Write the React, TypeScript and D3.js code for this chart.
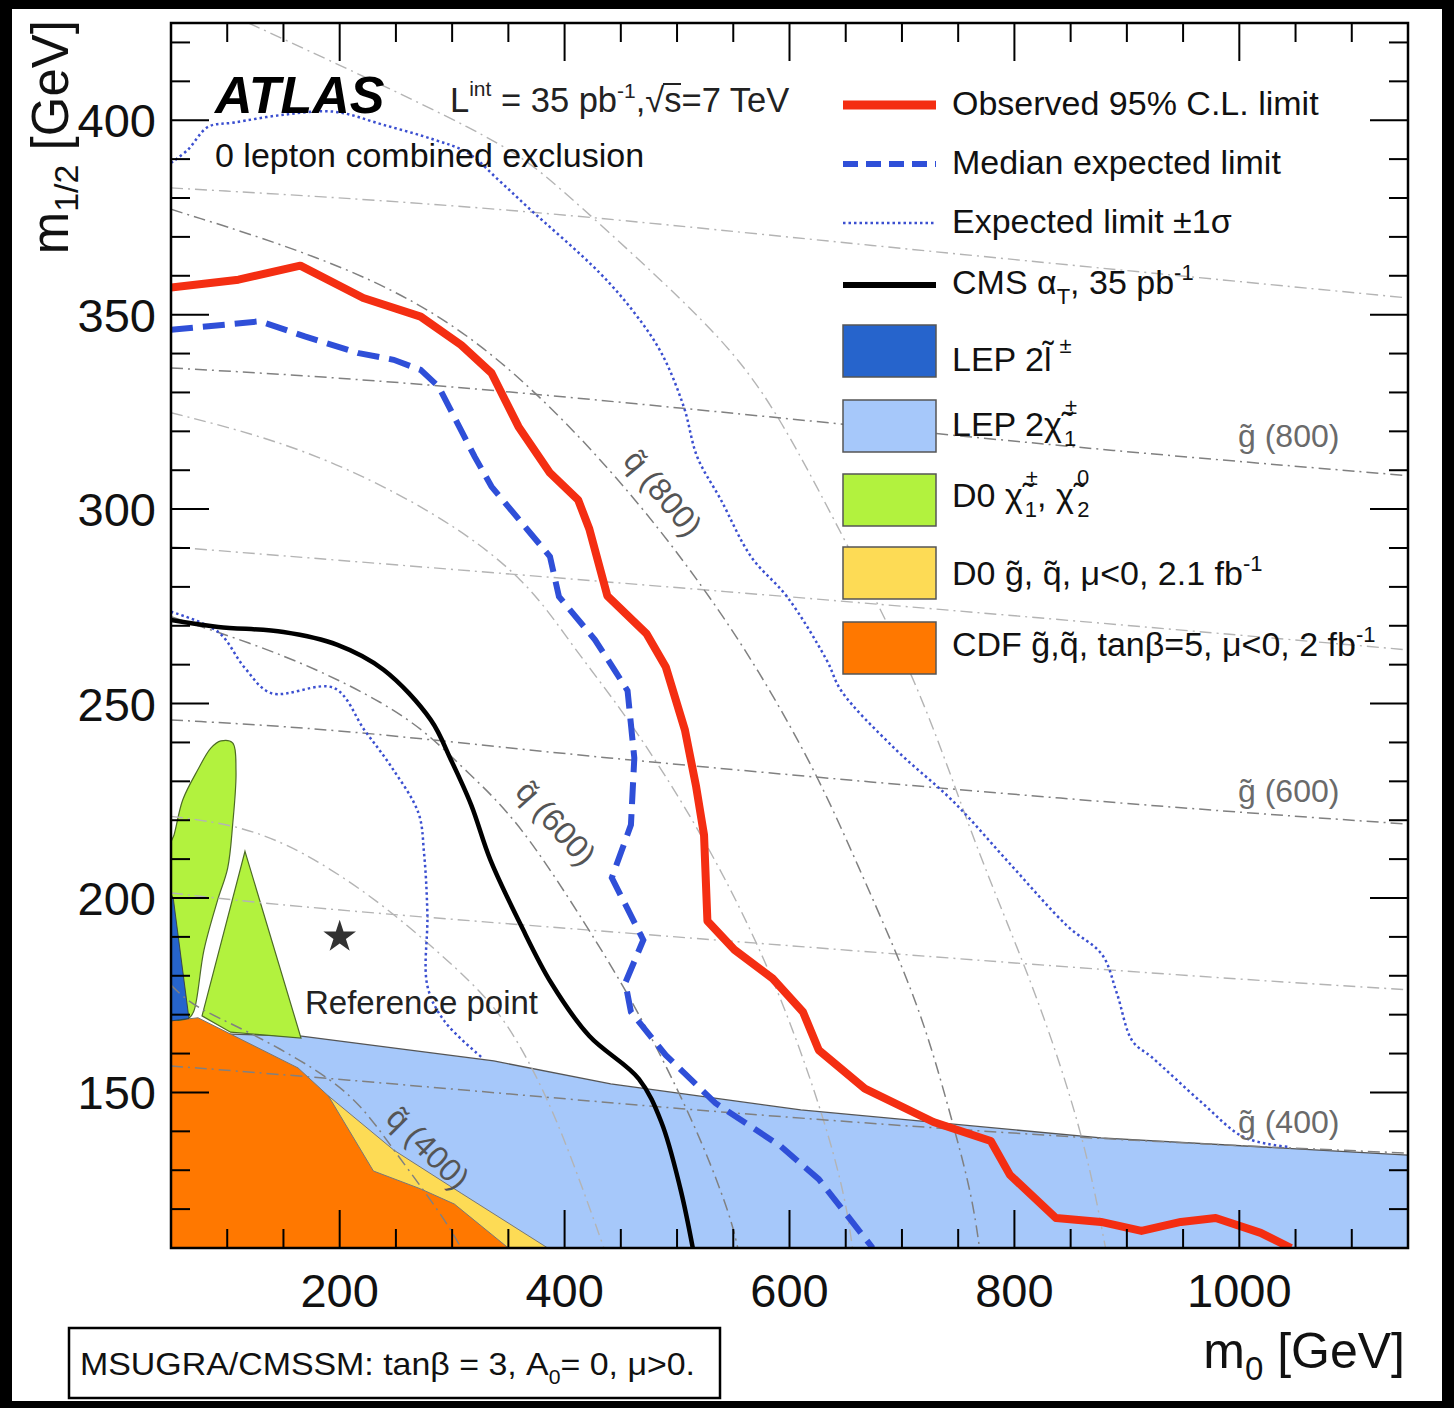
import React from "react";
import * as d3 from "d3";

type P = [number, number];

const FONT = "'Liberation Sans', Arial, Helvetica, sans-serif";
const W = 1454, H = 1408;
const L = 171, R = 1408, T = 23, B = 1248;

const X_DOMAIN: P = [50, 1150];
const Y_DOMAIN: P = [110, 425];
const X_MAJOR = [200, 400, 600, 800, 1000];
const Y_MAJOR = [150, 200, 250, 300, 350, 400];

// ---- limits ----
const observedLimit: P[] = [
  [50, 357], [110, 359], [165, 362.6], [221, 354.3], [272, 349.5], [308, 342.2], [335, 335],
  [359, 321.2], [387, 309.3], [412, 302.4], [422, 294.9], [438, 277.7], [473, 267.9], [490, 259.4],
  [507, 243.2], [517, 228.6], [524, 216.2], [527, 194.1], [551, 186.7], [585, 179.3], [612, 170.7],
  [626, 160.9], [667, 151], [728, 142.4], [779, 137.5], [796, 128.8], [837, 117.7], [877, 116.7],
  [913, 114.4], [948, 116.7], [979, 117.7], [1019, 113.9], [1046, 110],
];
const medianExpected: P[] = [
  [50, 346.1], [129, 348.3], [169, 344.4], [217, 340.1], [248, 338.4], [272, 335.8], [288, 331.5],
  [320, 313.5], [335, 305.8], [367, 294.7], [387, 287.8], [395, 277.5], [427, 266.4], [446, 257.9],
  [456, 253.3], [462, 236], [459, 218.8], [442, 205.2], [470, 189.2], [454, 178.2], [459, 170.7],
  [490, 159.6], [534, 147.3], [592, 136.2], [626, 127.7], [674, 110],
];
const expectedPlus1s: P[] = [
  [50, 389], [65, 392.4], [83, 398.3], [106, 399.4], [150, 401.4], [195, 402.2], [239, 398.8],
  [284, 395], [314, 391.6], [341, 384.7], [367, 377.7], [431, 360.8], [462, 350.5], [486, 340.2],
  [506, 326.3], [518, 313.4], [539, 302.4], [566, 287.7], [598, 277.4], [633, 261.2], [646, 253.3],
  [694, 238.3], [745, 225], [796, 208.8], [847, 192.8], [878, 185.4], [891, 175.6], [905, 163.2],
  [922, 159.1], [967, 147.3], [1004, 138.5], [1043, 136],
];
const expectedMinus1s: P[] = [
  [50, 273.6], [92, 268.4], [115, 259.4], [139, 252.7], [195, 254], [222, 243.2], [246, 233.7],
  [270, 221.9], [275, 211.6], [278, 195.9], [278, 177.4], [293, 168.4], [326, 159.1],
];
const cmsAlphaT: P[] = [
  [50, 271.5], [92, 269.7], [150, 268.4], [198, 265.1], [239, 258.7], [281, 245.8], [299, 235.5],
  [317, 223.9], [334, 209.8], [361, 193.1], [388, 178.2], [422, 164.5], [466, 153.5], [486, 142.4],
  [503, 125.2], [514, 110],
];

// ---- excluded regions ----
const lepChargino: P[] = [
  [50, 165.5], [103, 165], [166, 164.5], [337, 158.1], [441, 152.2], [610, 145.5], [877, 138.3],
  [1150, 133.9], [1150, 110], [50, 110],
];
const d0SquarkGluino: P[] = [
  [190, 149.1], [248, 135.2], [308, 124.1], [385, 110], [50, 110], [50, 149.1],
];
const cdfSquarkGluino: P[] = [
  [50, 168.4], [74, 169.2], [103, 165], [163, 156.3], [190, 149.1], [230, 129.8], [272, 125.2],
  [302, 121.3], [350, 110], [50, 110],
];
const d0ChiEllipse: P[] = [
  [94.4, 240.4], [104.8, 239.9], [107.8, 232.7], [104.8, 218.8], [100.4, 207.7], [91.5, 199.5],
  [79.3, 186.6], [70.4, 171], [66, 169.2], [50, 169.2], [50, 214.2], [52.7, 216.2], [60.4, 225.2],
  [73.7, 232.9], [85.6, 238.6],
];
const d0ChiTriangle: P[] = [[115.8, 212], [165.6, 164], [103, 165.5], [77.6, 169.7]];
const lepSlepton: P[] = [[50, 201], [52, 200], [66, 169], [50, 168.4]];
const referencePoint: P = [200, 190];

// ---- iso-mass contours ----
const gluino900: P[] = [[50, 382.6], [343, 377.7], [637, 368.7], [1150, 354.3]];
const gluino800: P[] = [[50, 336.3], [272, 332.7], [669, 321.2], [877, 315.2], [1150, 308.6]];
const gluino700: P[] = [[50, 290.3], [672, 275.9], [1150, 263.8]];
const gluino600: P[] = [[50, 245.8], [210, 243.2], [388, 237.1], [877, 224.5], [1150, 219]];
const gluino500: P[] = [[50, 201.3], [159, 197.7], [441, 191.3], [921, 180.5], [1150, 176.4]];
const gluino400: P[] = [[50, 156.8], [190, 153.7], [441, 147.3], [592, 143.7], [877, 137.8], [1150, 134.4]];

const squark900: P[] = [
  [119, 425], [343, 395], [387, 385], [486, 359], [560, 338], [606, 316], [649, 292], [714, 256],
  [762, 216], [796, 192], [830, 167], [864, 136], [881, 110],
];
const squark800: P[] = [
  [50, 377.1], [209, 362.7], [328, 343.9], [446, 309.3], [526, 279.2], [578, 256.1], [626, 231],
  [660, 208.9], [694, 186.7], [721, 167.1], [745, 142.4], [762, 123.9], [769, 110],
];
const squark700: P[] = [
  [50, 324.8], [169, 316], [288, 299], [367, 281.8], [407, 264.6], [455, 247.1], [524, 216.2],
  [592, 176.9], [646, 130.1], [656, 110],
];
const squark600: P[] = [
  [50, 272.3], [121, 265.6], [181, 258.7], [239, 250.2], [278, 242.5], [314, 232.2], [359, 220],
  [422, 191.8], [456, 175.6], [490, 157.2], [524, 136.2], [548, 117.7], [554, 110],
];
const squark500: P[] = [
  [50, 221], [110, 218.8], [166, 212.4], [234, 199.5], [293, 184.8], [337, 172.9], [367, 159.1],
  [397, 140.7], [435, 110],
];
const squark400: P[] = [
  [50, 177.6], [70, 172], [115, 166.3], [183, 155.5], [219, 147], [248, 135.2], [293, 117.7], [308, 110],
];

const darkContours = [gluino800, gluino600, gluino400, squark800, squark600, squark400];
const lightContours = [gluino900, gluino700, gluino500, squark900, squark700, squark500];

const gluinoLabels = [
  { text: "(800)", y: 447 },
  { text: "(600)", y: 802 },
  { text: "(400)", y: 1133 },
];
const squarkLabels = [
  { text: "(800)", cx: 663, cy: 493, angle: 50 },
  { text: "(600)", cx: 556, cy: 823, angle: 48 },
  { text: "(400)", cx: 428, cy: 1148, angle: 45 },
];

const C_RED = "#f42e12";
const C_BLUE = "#2f4fd8";
const C_DOT = "#3b4fd0";
const C_LEPL = "#2664cc";
const C_LEPC = "#a6c8fa";
const C_GREEN = "#b2f23e";
const C_YELLOW = "#fddb55";
const C_ORANGE = "#ff7800";

export default function App() {
  const x = d3.scaleLinear().domain(X_DOMAIN).range([L, R]);
  const y = d3.scaleLinear().domain(Y_DOMAIN).range([B, T]);
  const lin = d3.line<P>().x((d) => x(d[0])).y((d) => y(d[1]));
  const cr = d3.line<P>().x((d) => x(d[0])).y((d) => y(d[1])).curve(d3.curveCatmullRom.alpha(0.5));
  const basis = d3.line<P>().x((d) => x(d[0])).y((d) => y(d[1])).curve(d3.curveBasis);
  const closedSmooth = d3.line<P>().x((d) => x(d[0])).y((d) => y(d[1])).curve(d3.curveCatmullRomClosed.alpha(0.5));
  const poly = (pts: P[]) => lin(pts) + "Z";

  const xMinor = d3.range(100, 1150, 50);
  const yMinor = d3.range(120, 425, 10);
  const star = d3.symbol(d3.symbolStar, 330)();

  const legendLines = [
    { y: 105, color: C_RED, w: 9, dash: "none" },
    { y: 164, color: C_BLUE, w: 6, dash: "15,8" },
    { y: 223, color: C_DOT, w: 2.5, dash: "2.5,3" },
    { y: 285, color: "#000", w: 6, dash: "none" },
  ];
  const legendBoxes = [
    { y: 325, color: C_LEPL },
    { y: 400, color: C_LEPC },
    { y: 474, color: C_GREEN },
    { y: 547, color: C_YELLOW },
    { y: 622, color: C_ORANGE },
  ];

  return (
    <div style={{ position: "absolute", left: 0, top: 0 }}>
      <svg width={W} height={H} style={{ display: "block" }} fontFamily={FONT}>
        <defs>
          <clipPath id="plotclip">
            <rect x={L} y={T} width={R - L} height={B - T} />
          </clipPath>
        </defs>
        <rect width={W} height={H} fill="#000" />
        <rect x={12} y={9} width={1430} height={1392} fill="#fff" />

        <g clipPath="url(#plotclip)">
          {/* regions */}
          <path d={poly(lepChargino)} fill={C_LEPC} stroke="#555" strokeWidth={1.3} />
          <path d={poly(d0SquarkGluino)} fill={C_YELLOW} stroke="#777" strokeWidth={1} />
          <path d={poly(cdfSquarkGluino)} fill={C_ORANGE} stroke="#777" strokeWidth={1} />
          <path d={closedSmooth(d0ChiEllipse) as string} fill={C_GREEN} stroke="#4d6b26" strokeWidth={1.2} />
          <path d={poly(d0ChiTriangle)} fill={C_GREEN} stroke="#4d6b26" strokeWidth={1.2} />
          <path d={poly(lepSlepton)} fill={C_LEPL} stroke="#333" strokeWidth={0.8} />

          {/* iso-mass contours */}
          {lightContours.map((c, i) => (
            <path key={"lc" + i} d={basis(c) as string} fill="none" stroke="#b4b4b4" strokeWidth={1.4} strokeDasharray="12,5,2,5" />
          ))}
          {darkContours.map((c, i) => (
            <path key={"dc" + i} d={basis(c) as string} fill="none" stroke="#808080" strokeWidth={1.5} strokeDasharray="12,5,2,5" />
          ))}

          {/* limits */}
          <path d={cr(expectedPlus1s) as string} fill="none" stroke={C_DOT} strokeWidth={2.5} strokeDasharray="2.5,3" />
          <path d={cr(expectedMinus1s) as string} fill="none" stroke={C_DOT} strokeWidth={2.5} strokeDasharray="2.5,3" />
          <path d={cr(cmsAlphaT) as string} fill="none" stroke="#000" strokeWidth={4.5} />
          <path d={lin(medianExpected) as string} fill="none" stroke={C_BLUE} strokeWidth={6} strokeDasharray="22,10" />
          <path d={lin(observedLimit) as string} fill="none" stroke={C_RED} strokeWidth={8} strokeLinejoin="round" />
        </g>

        {/* contour labels */}
        {gluinoLabels.map((g, i) => (
          <text key={"gl" + i} x={1238} y={g.y} fontSize={32} fill="#6a6a6a">
            {"g\u0303 " + g.text}
          </text>
        ))}
        {squarkLabels.map((s, i) => (
          <text key={"sl" + i} transform={`translate(${s.cx},${s.cy}) rotate(${s.angle})`} textAnchor="middle" dy={11} fontSize={32} fill="#555">
            {"q\u0303 " + s.text}
          </text>
        ))}

        {/* reference point */}
        <path d={star as string} transform={`translate(${x(referencePoint[0])},${y(referencePoint[1])})`} fill="#333" />
        <text x={305} y={1014} fontSize={33} fill="#222">Reference point</text>

        {/* frame and ticks */}
        <rect x={L} y={T} width={R - L} height={B - T} fill="none" stroke="#000" strokeWidth={2.5} />
        {xMinor.map((v) => {
          const len = X_MAJOR.includes(v) ? 38 : 19;
          return (
            <g key={"xt" + v} stroke="#000" strokeWidth={2}>
              <line x1={x(v)} x2={x(v)} y1={B} y2={B - len} />
              <line x1={x(v)} x2={x(v)} y1={T} y2={T + len} />
            </g>
          );
        })}
        {yMinor.map((v) => {
          const len = Y_MAJOR.includes(v) ? 38 : 19;
          return (
            <g key={"yt" + v} stroke="#000" strokeWidth={2}>
              <line x1={L} x2={L + len} y1={y(v)} y2={y(v)} />
              <line x1={R} x2={R - len} y1={y(v)} y2={y(v)} />
            </g>
          );
        })}
        {X_MAJOR.map((v) => (
          <text key={"xl" + v} x={x(v)} y={1307} fontSize={47} textAnchor="middle" fill="#111">{v}</text>
        ))}
        {Y_MAJOR.map((v) => (
          <text key={"yl" + v} x={156} y={y(v) + 17} fontSize={47} textAnchor="end" fill="#111">{v}</text>
        ))}

        {/* axis titles */}
        <text transform="translate(68,20) rotate(-90)" textAnchor="end" fontSize={51} fill="#111">
          m<tspan fontSize={34} dy={10}>1/2</tspan><tspan dy={-10}> [GeV]</tspan>
        </text>
        <text x={1405} y={1368} textAnchor="end" fontSize={50} fill="#111">
          m<tspan fontSize={33} dy={12}>0</tspan><tspan dy={-12}> [GeV]</tspan>
        </text>

        {/* header */}
        <text x={215} y={113} fontSize={52} fontWeight="bold" fontStyle="italic" fill="#000">ATLAS</text>
        <text x={450} y={112} fontSize={34.5} fill="#222">
          L<tspan fontSize={21} dy={-16}>int</tspan><tspan dy={16}> = 35 pb</tspan><tspan fontSize={21} dy={-14}>-1</tspan><tspan dy={14}>,√s=7 TeV</tspan>
        </text>
        <line x1={663} x2={681} y1={84} y2={84} stroke="#222" strokeWidth={2} />
        <text x={215} y={167} fontSize={34} fill="#111">0 lepton combined exclusion</text>

        {/* legend */}
        {legendLines.map((l, i) => (
          <line key={"ll" + i} x1={843} x2={936} y1={l.y} y2={l.y} stroke={l.color} strokeWidth={l.w} strokeDasharray={l.dash} />
        ))}
        {legendBoxes.map((b, i) => (
          <rect key={"lb" + i} x={843} y={b.y} width={93} height={52} fill={b.color} stroke="#555" strokeWidth={1.5} />
        ))}
        <g fontSize={34} fill="#111">
          <text x={952} y={115}>Observed 95% C.L. limit</text>
          <text x={952} y={174}>Median expected limit</text>
          <text x={952} y={233}>Expected limit ±1σ</text>
          <text x={952} y={294}>
            CMS α<tspan fontSize={22} dy={10}>T</tspan><tspan dy={-10}>, 35 pb</tspan><tspan fontSize={22} dy={-14}>-1</tspan>
          </text>
          <text x={952} y={371}>
            LEP 2{"l\u0303"}<tspan fontSize={22} dy={-18} dx={8}>±</tspan>
          </text>
          <text x={952} y={436}>
            LEP 2{"\u03C7\u0303"}<tspan fontSize={22} dy={-22} dx={3}>±</tspan><tspan fontSize={22} dx={-13} dy={32}>1</tspan>
          </text>
          <text x={952} y={507}>
            D0 {"\u03C7\u0303"}<tspan fontSize={22} dy={-22} dx={3}>±</tspan><tspan fontSize={22} dx={-13} dy={32}>1</tspan>
            <tspan dy={-10}>, {"\u03C7\u0303"}</tspan><tspan fontSize={22} dy={-22} dx={3}>0</tspan><tspan fontSize={22} dx={-12} dy={32}>2</tspan>
          </text>
          <text x={952} y={585}>
            D0 {"g\u0303"}, {"q\u0303"}, μ&lt;0, 2.1 fb<tspan fontSize={22} dy={-14}>-1</tspan>
          </text>
          <text x={952} y={656}>
            CDF {"g\u0303"},{"q\u0303"}, tanβ=5, μ&lt;0, 2 fb<tspan fontSize={22} dy={-14}>-1</tspan>
          </text>
        </g>

        {/* parameter box */}
        <rect x={69} y={1328} width={651} height={70} fill="#fff" stroke="#000" strokeWidth={2.5} />
        <text x={80} y={1375} fontSize={32} fill="#111" textLength={615} lengthAdjust="spacingAndGlyphs">
          MSUGRA/CMSSM: tanβ = 3, A<tspan fontSize={20} dy={9}>0</tspan><tspan dy={-9}>= 0, μ&gt;0.</tspan>
        </text>
      </svg>
    </div>
  );
}
